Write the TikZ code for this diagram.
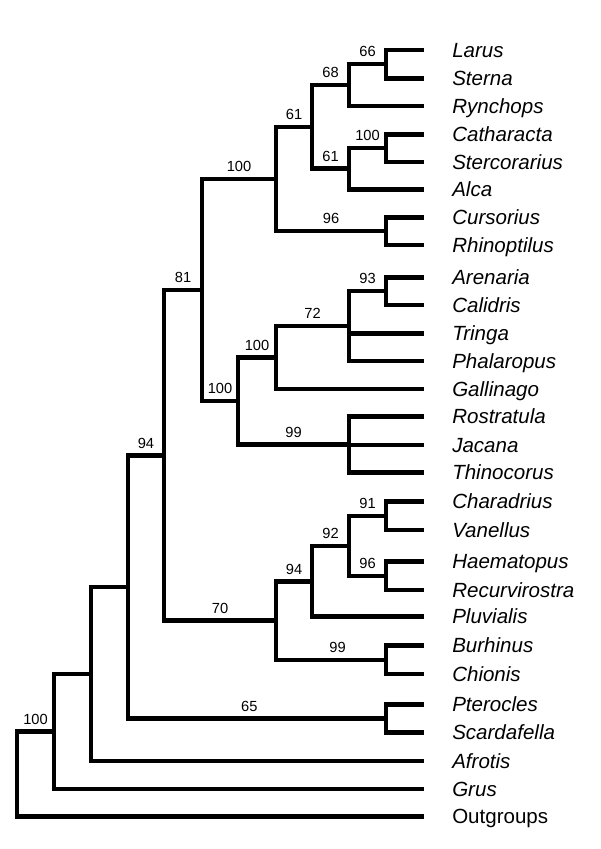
\documentclass[tikz,border=0pt]{standalone}
\usepackage{fontspec}
\setmainfont{Liberation Sans}

\begin{document}
\begin{tikzpicture}[
  x=0.75pt,y=-0.75pt,
  branch/.style={line width=3.5pt,line cap=butt,line join=miter},
  taxon/.style={anchor=base west,inner sep=0pt,yshift=-5.3pt,
                font=\fontsize{15.4}{18}\selectfont\itshape},
  outgroup/.style={taxon,font=\fontsize{15.4}{18}\selectfont},
  bs/.style={anchor=base,inner sep=0pt,yshift=5.4pt,pos=0.75,
             font=\fontsize{11}{13}\selectfont}
]
\useasboundingbox (0,0) rectangle (600,849);

% terminal taxa: branch tip and name
\foreach \name/\y in {Larus/50,Sterna/78.3,Rynchops/106,Catharacta/134.3,
    Stercorarius/162,Alca/189.3,Cursorius/217.3,Rhinoptilus/245,
    Arenaria/277.3,Calidris/305,Tringa/333.3,Phalaropus/361,Gallinago/389,
    Rostratula/416.7,Jacana/445,Thinocorus/472.7,Charadrius/501.7,
    Vanellus/530,Haematopus/561.7,Recurvirostra/590,Pluvialis/616.7,
    Burhinus/645.7,Chionis/674,Pterocles/704.3,Scardafella/732.7,
    Afrotis/761,Grus/789}{
  \coordinate (t-\name) at (424,\y);
  \node[taxon] (\name) at (452,\y) {\name};
}
\coordinate (t-Outgroups) at (424,816.7);
\node[outgroup] (Outgroups) at (452,816.7) {Outgroups};

% internal nodes
\coordinate (larster) at (386,64.15);
\coordinate (laridae) at (349,85.1);
\coordinate (skuas)   at (386,148.15);
\coordinate (alcid)   at (349,168.7);
\coordinate (lari)    at (312,126.9);
\coordinate (cours)   at (386,231.15);
\coordinate (laro)    at (276,179);
\coordinate (arecal)  at (386,291.15);
\coordinate (sandp)   at (349,326.1);
\coordinate (scolop)  at (276,357.5);
\coordinate (jacan)   at (349,444.7);
\coordinate (scolo)   at (238,401.1);
\coordinate (larsco)  at (202,290.05);
\coordinate (plover)  at (386,515.85);
\coordinate (oyster)  at (386,575.85);
\coordinate (charad)  at (349,545.85);
\coordinate (pluv)    at (312,581.3);
\coordinate (burch)   at (386,659.85);
\coordinate (chara)   at (276,620.6);
\coordinate (charad2) at (164,455.3);
\coordinate (ptesca)  at (386,718.5);
\coordinate (cladeA)  at (128,586.9);
\coordinate (cladeB)  at (91,674);
\coordinate (cladeC)  at (54,731.5);
\coordinate (root)    at (17,774.1);

% gulls, skuas, auks, coursers
\draw[branch] (larster) |- (t-Larus);
\draw[branch] (larster) |- (t-Sterna);
\draw[branch] (laridae) |- node[bs]{66} (larster);
\draw[branch] (laridae) |- (t-Rynchops);
\draw[branch] (skuas) |- (t-Catharacta);
\draw[branch] (skuas) |- (t-Stercorarius);
\draw[branch] (alcid) |- node[bs]{100} (skuas);
\draw[branch] (alcid) |- (t-Alca);
\draw[branch] (lari) |- node[bs]{68} (laridae);
\draw[branch] (lari) |- node[bs]{61} (alcid);
\draw[branch] (cours) |- (t-Cursorius);
\draw[branch] (cours) |- (t-Rhinoptilus);
\draw[branch] (laro) |- node[bs]{61} (lari);
\draw[branch] (laro) |- node[bs]{96} (cours);

% sandpipers, snipes, jacanas
\draw[branch] (arecal) |- (t-Arenaria);
\draw[branch] (arecal) |- (t-Calidris);
\draw[branch] (sandp) |- node[bs]{93} (arecal);
\draw[branch] (sandp) |- (t-Tringa);
\draw[branch] (sandp) |- (t-Phalaropus);
\draw[branch] (scolop) |- node[bs]{72} (sandp);
\draw[branch] (scolop) |- (t-Gallinago);
\draw[branch] (jacan) |- (t-Rostratula);
\draw[branch] (jacan) |- (t-Jacana);
\draw[branch] (jacan) |- (t-Thinocorus);
\draw[branch] (scolo) |- node[bs]{100} (scolop);
\draw[branch] (scolo) |- node[bs]{99} (jacan);
\draw[branch] (larsco) |- node[bs]{100} (laro);
\draw[branch] (larsco) |- node[bs]{100} (scolo);

% plovers and allies
\draw[branch] (plover) |- (t-Charadrius);
\draw[branch] (plover) |- (t-Vanellus);
\draw[branch] (oyster) |- (t-Haematopus);
\draw[branch] (oyster) |- (t-Recurvirostra);
\draw[branch] (charad) |- node[bs]{91} (plover);
\draw[branch] (charad) |- node[bs]{96} (oyster);
\draw[branch] (pluv) |- node[bs]{92} (charad);
\draw[branch] (pluv) |- (t-Pluvialis);
\draw[branch] (burch) |- (t-Burhinus);
\draw[branch] (burch) |- (t-Chionis);
\draw[branch] (chara) |- node[bs]{94} (pluv);
\draw[branch] (chara) |- node[bs,pos=0.78]{99} (burch);
\draw[branch] (charad2) |- node[bs]{81} (larsco);
\draw[branch] (charad2) |- node[bs]{70} (chara);

% base of the tree
\draw[branch] (ptesca) |- (t-Pterocles);
\draw[branch] (ptesca) |- (t-Scardafella);
\draw[branch] (cladeA) |- node[bs]{94} (charad2);
\draw[branch] (cladeA) |- node[bs,pos=0.735]{65} (ptesca);
\draw[branch] (cladeB) |- (cladeA);
\draw[branch] (cladeB) |- (t-Afrotis);
\draw[branch] (cladeC) |- (cladeB);
\draw[branch] (cladeC) |- (t-Grus);
\draw[branch] (root) |- node[bs]{100} (cladeC);
\draw[branch] (root) |- (t-Outgroups);
\end{tikzpicture}
\end{document}
